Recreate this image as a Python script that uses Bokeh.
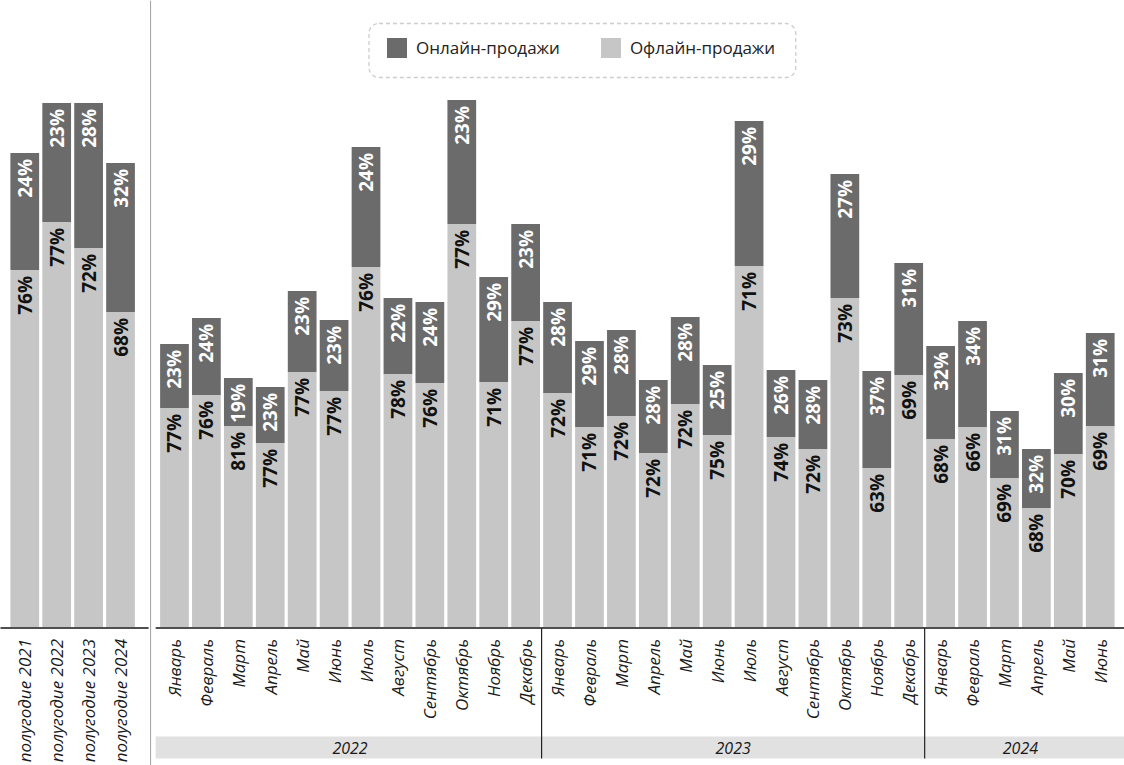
import math
from bokeh.plotting import figure
from bokeh.models import (FactorRange, ColumnDataSource, Range1d, BoxAnnotation,
                          Legend, LegendItem)
from bokeh.core.properties import value
from bokeh.transform import stack
from bokeh.embed import file_html
from bokeh.resources import INLINE

# ---------------- data ----------------
half_labels = ["полугодие 2021", "полугодие 2022", "полугодие 2023", "полугодие 2024"]
half_offline = [358, 406, 380, 316]
half_online = [117, 119, 145, 149]
half_offline_pct = [76, 77, 72, 68]
half_online_pct = [24, 23, 28, 32]

years = ["2022", "2023", "2024"]
months = ["Январь", "Февраль", "Март", "Апрель", "Май", "Июнь", "Июль",
          "Август", "Сентябрь", "Октябрь", "Ноябрь", "Декабрь"]
month_counts = [12, 12, 6]

monthly_offline = [220, 233, 202, 185, 256, 237, 361, 254, 245, 404, 246, 307,
                   235, 201, 212, 175, 224, 193, 362, 191, 179, 330, 160, 253,
                   189, 201, 150, 120, 174, 202]
monthly_online = [64, 77, 48, 56, 81, 71, 120, 76, 81, 124, 105, 97,
                  91, 86, 86, 73, 87, 70, 145, 67, 69, 124, 97, 112,
                  93, 106, 67, 59, 81, 93]
monthly_offline_pct = [77, 76, 81, 77, 77, 77, 76, 78, 76, 77, 71, 77,
                       72, 71, 72, 72, 72, 75, 71, 74, 72, 73, 63, 69,
                       68, 66, 69, 68, 70, 69]
monthly_online_pct = [23, 24, 19, 23, 23, 23, 24, 22, 24, 23, 29, 23,
                      28, 29, 28, 28, 28, 25, 29, 26, 28, 27, 37, 31,
                      32, 34, 31, 32, 30, 31]

series_names = ["Онлайн-продажи", "Офлайн-продажи"]

# ---------------- style ----------------
DARK = "#6b6b6b"
LIGHT = "#c6c6c6"
FONT = "Open Sans"
W, H = 1124, 765
GROUP_PAD = 0.69
RANGE_PAD = 0.26

# ---------------- factors ----------------
left_keys = [("A", lab) for lab in half_labels]
month_keys, month_texts = [], []
for yr, n in zip(years, month_counts):
    for m in months[:n]:
        month_keys.append(("B", f"{m} {yr}"))
        month_texts.append(m)

factors = left_keys + month_keys
n_left = len(left_keys)

src = ColumnDataSource(dict(
    x=factors,
    offline=half_offline + monthly_offline,
    online=half_online + monthly_online,
    off_txt=[f"{v}%" for v in half_offline_pct + monthly_offline_pct],
    on_txt=[f"{v}%" for v in half_online_pct + monthly_online_pct],
    cat_txt=half_labels + month_texts,
))

xr = FactorRange(factors=factors, factor_padding=0, group_padding=GROUP_PAD,
                 range_padding=RANGE_PAD, range_padding_units="absolute")
baseline_px = 627.5
p = figure(x_range=xr, y_range=Range1d(-(H - baseline_px), baseline_px),
           width=W, height=H, min_border=0, toolbar_location=None,
           output_backend="svg", x_axis_location=None, y_axis_location=None,
           outline_line_color=None, background_fill_color="white",
           border_fill_color="white")
p.extra_y_ranges = {"px": Range1d(H, 0)}
p.grid.visible = False

# synthetic-units per screen pixel (layout helper for decorations)
units_total = len(factors) + GROUP_PAD + RANGE_PAD
def sx(px):
    return px * units_total / W - RANGE_PAD / 2

# bars
r_off, r_on = p.vbar_stack(["offline", "online"], x="x", width=0.9, source=src,
                           fill_color=[LIGHT, DARK], line_color=None)

# value labels
p.text(x="x", y=stack("offline"), text="off_txt", source=src, angle=math.pi / 2,
       text_align="right", text_baseline="middle", y_offset=6,
       text_font=value(FONT), text_font_style="bold", text_font_size="19px",
       text_color="#111111")
p.text(x="x", y=stack("offline", "online"), text="on_txt", source=src, angle=math.pi / 2,
       text_align="right", text_baseline="middle", y_offset=6,
       text_font=value(FONT), text_font_style="bold", text_font_size="19px",
       text_color="#ffffff")

# axis baselines
gap_l = n_left + 0.55 * GROUP_PAD
gap_r = n_left + 0.87 * GROUP_PAD
end_x = len(factors) + GROUP_PAD + 1
p.segment(x0=[-1, gap_r], x1=[gap_l, end_x], y0=[0, 0], y1=[0, 0],
          line_color="#4f4f4f", line_width=2)

# panel separator
sep_x = n_left + 0.64 * GROUP_PAD
p.segment(x0=[sep_x], x1=[sep_x], y0=[0], y1=[H], y_range_name="px",
          line_color="#a0a0a0", line_width=1)

# category labels
p.text(x="x", y=0, text="cat_txt", source=src, angle=math.pi / 2,
       text_align="right", text_baseline="middle", y_offset=11,
       text_font=value(FONT), text_font_style="italic", text_font_size="17px",
       text_color="#1a1a1a")

# year band
p.quad(left=[gap_r], right=[end_x], top=[736], bottom=[758], y_range_name="px",
       fill_color="#e1e1e1", line_color=None)
starts = []
acc = n_left + GROUP_PAD
for n in month_counts:
    starts.append(acc)
    acc += n
year_centers = [s + n / 2 for s, n in zip(starts, month_counts)]
p.text(x=year_centers, y=[747] * len(years), text=years, y_range_name="px",
       text_align="center", text_baseline="middle",
       text_font=value(FONT), text_font_style="italic", text_font_size="16px",
       text_color="#1a1a1a")
sep_years = starts[1:]
p.segment(x0=sep_years, x1=sep_years, y0=[baseline_px] * len(sep_years),
          y1=[758] * len(sep_years), y_range_name="px",
          line_color="#222222", line_width=1.2)

# legend box + legend
box = BoxAnnotation(left=sx(367), right=sx(797), top=23, bottom=77,
                    y_range_name="px",
                    fill_alpha=0, fill_color=None, line_color="#5a5a5a",
                    line_dash="4 3", line_width=1.3, border_radius=10)
p.add_layout(box)

legend = Legend(items=[LegendItem(label=series_names[0], renderers=[r_on]),
                       LegendItem(label=series_names[1], renderers=[r_off])],
                orientation="horizontal", location=(384, 705), margin=0,
                padding=15, spacing=38, label_standoff=7,
                glyph_width=25, glyph_height=25, label_height=25,
                label_text_font=FONT, label_text_font_size="17px",
                label_text_color="#222222",
                border_line_color=None, background_fill_alpha=0)
p.add_layout(legend)

open("out.html", "w").write(file_html(p, INLINE))
